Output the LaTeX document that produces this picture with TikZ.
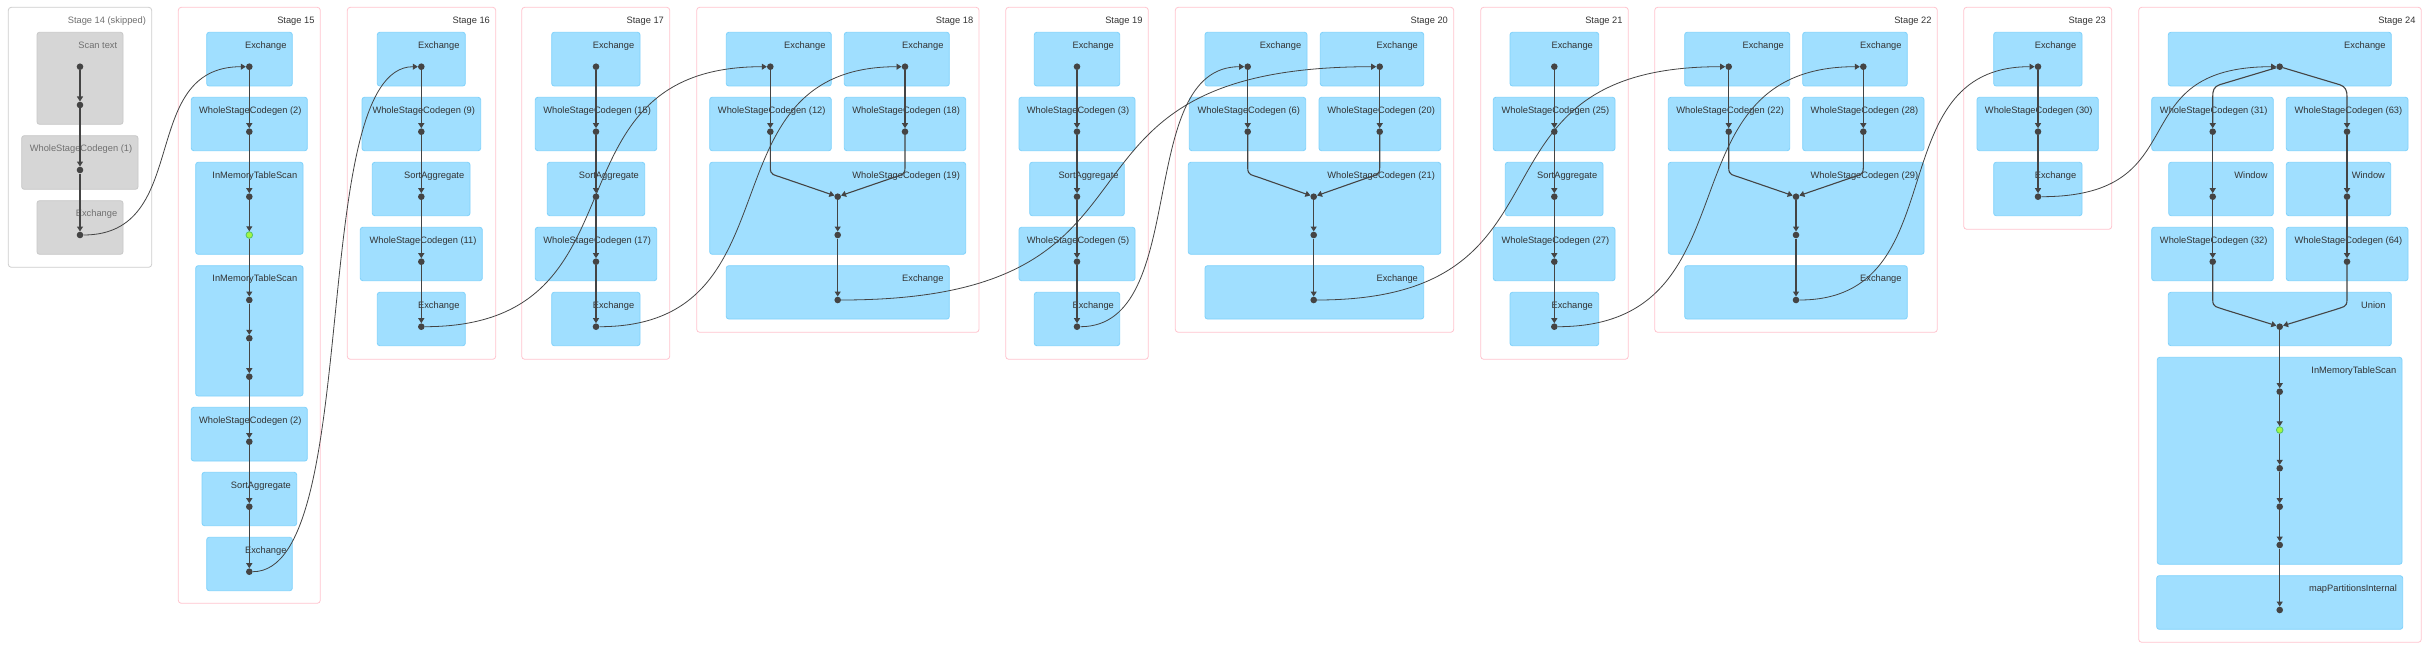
\documentclass[tikz,border=0pt]{standalone}
\usepackage{fontspec}
\setmainfont{Liberation Sans}
\usetikzlibrary{arrows.meta}
\definecolor{opfill}{HTML}{A0DFFF}
\definecolor{opedge}{HTML}{80D2FB}
\definecolor{stageedge}{HTML}{FFC4CE}
\definecolor{skipedge}{HTML}{CDCDCD}
\definecolor{skipfill}{HTML}{D6D6D6}
\definecolor{skipline}{HTML}{C8C8C8}
\definecolor{dotgray}{HTML}{444444}
\definecolor{cachefill}{HTML}{A3F545}
\definecolor{cacheedge}{HTML}{52C366}
\definecolor{labeltext}{HTML}{333333}
\definecolor{skiptext}{HTML}{707070}
\begin{document}
\begin{tikzpicture}[x=1pt,y=-1pt,
	stagebox/.style={draw=stageedge,line width=0.8pt,rounded corners=3pt,fill=white},
	skipstage/.style={draw=skipedge,line width=0.8pt,rounded corners=3pt,fill=white},
	opbox/.style={draw=opedge,fill=opfill,line width=0.8pt,rounded corners=2.5pt},
	skipbox/.style={draw=skipline,fill=skipfill,line width=0.8pt,rounded corners=2.5pt},
	lbl/.style={anchor=base east,inner sep=0pt,font=\fontsize{9.3}{11}\selectfont,text=labeltext},
	skiplbl/.style={lbl,text=skiptext},
	rdd/.style={circle,fill=dotgray,inner sep=0pt,minimum size=6.6pt},
	cachedrdd/.style={rdd,fill=cachefill,draw=cacheedge,line width=0.8pt},
	dep/.style={draw=dotgray,line width=1.1pt,-{Triangle[length=5pt,width=6pt]}},
	shuffle/.style={draw=dotgray,line width=0.8pt,-{Triangle[length=5pt,width=6pt]}}]
	\useasboundingbox (0,0) rectangle (2432,658);
	\draw[skipstage] (8.3,7.3) rectangle (151.7,267.3);
	\node[skiplbl] (stage14) at (146.1,23.1) {Stage 14 (skipped)};
	\foreach \xa/\xb/\yb/\n in {178.3/320.3/603.3/15,347.3/495.7/359.3/16,521.7/669.7/359.3/17,696.7/979/332.3/18,1005.7/1148.3/359.3/19,1175.3/1453.7/332.3/20,1480.7/1628.3/359.3/21,1654.7/1937.3/332.3/22,1963.7/2111.7/229.3/23,2138.7/2421.3/642.3/24}{
		\draw[stagebox] (\xa,7.3) rectangle (\xb,\yb);
		\node[lbl] (stage\n) at ({\xb-5.6},23.1) {Stage \n};
	}
	\foreach \xa/\ya/\xb/\yb/\txt [count=\i] in {37/32.3/123/124.3/Scan text,21.7/135.7/138/189.3/WholeStageCodegen (1),37/200.7/123/254.3/Exchange}{
		\draw[skipbox] (\xa,\ya) rectangle (\xb,\yb);
		\node[skiplbl] (skip\i) at ({\xb-5.6},{\ya+15.8}) {\txt};
	}
	\foreach \xa/\ya/\xb/\yb/\txt [count=\i] in {
		206.7/32.3/292.3/86/Exchange,191.3/97.3/307.3/150.7/WholeStageCodegen (2),195.7/162.3/303/254.3/InMemoryTableScan,195.7/265.7/303/396/InMemoryTableScan,191.3/407.3/307.3/461/WholeStageCodegen (2),202/472.3/296.7/525.7/SortAggregate,206.7/537.3/292.3/590.7/Exchange,
		377.3/32.3/465.3/86/Exchange,362/97.3/480.7/150.7/WholeStageCodegen (9),372.3/162.3/470/215.7/SortAggregate,360.3/227.3/482.3/280.7/WholeStageCodegen (11),377.3/292.3/465.3/345.7/Exchange,
		551.7/32.3/640/86/Exchange,535.3/97.3/656.7/150.7/WholeStageCodegen (15),547.3/162.3/644.7/215.7/SortAggregate,535.3/227.3/656.7/280.7/WholeStageCodegen (17),551.7/292.3/640/345.7/Exchange,
		726.3/32.3/831.3/86/Exchange,844.3/32.3/949.3/86/Exchange,709.7/97.3/831.3/150.7/WholeStageCodegen (12),844.3/97.3/965.7/150.7/WholeStageCodegen (18),709.7/162.3/965.7/254.3/WholeStageCodegen (19),726.3/265.7/949.3/319/Exchange,
		1034.3/32.3/1119.7/86/Exchange,1019/97.3/1135/150.7/WholeStageCodegen (3),1029.7/162.3/1124.3/215.7/SortAggregate,1019/227.3/1135/280.7/WholeStageCodegen (5),1034.3/292.3/1119.7/345.7/Exchange,
		1205/32.3/1307/86/Exchange,1320.3/32.3/1423.7/86/Exchange,1189.3/97.3/1305.7/150.7/WholeStageCodegen (6),1319/97.3/1440.7/150.7/WholeStageCodegen (20),1188.3/162.3/1440.7/254.3/WholeStageCodegen (21),1205/265.7/1423.7/319/Exchange,
		1510/32.3/1598.7/86/Exchange,1493.3/97.3/1615/150.7/WholeStageCodegen (25),1505.3/162.3/1603/215.7/SortAggregate,1493.3/227.3/1615/280.7/WholeStageCodegen (27),1510/292.3/1598.7/345.7/Exchange,
		1684.7/32.3/1789.7/86/Exchange,1802.7/32.3/1907.3/86/Exchange,1668.3/97.3/1789.7/150.7/WholeStageCodegen (22),1802.7/97.3/1924/150.7/WholeStageCodegen (28),1668.3/162.3/1924/254.3/WholeStageCodegen (29),1684.7/265.7/1907.3/319/Exchange,
		1993.7/32.3/2082/86/Exchange,1977/97.3/2098.3/150.7/WholeStageCodegen (30),1993.7/162.3/2082/215.7/Exchange,
		2168.3/32.3/2391.3/86/Exchange,2151.7/97.3/2273.3/150.7/WholeStageCodegen (31),2286.3/97.3/2408/150.7/WholeStageCodegen (63),2168.7/162.3/2273.3/215.7/Window,2286.3/162.3/2390.7/215.7/Window,2151.7/227.3/2273.3/280.7/WholeStageCodegen (32),2286.3/227.3/2408/280.7/WholeStageCodegen (64),2168.3/292.3/2391.3/345.7/Union,2157.3/357.3/2402/564.3/InMemoryTableScan,2156.7/575.7/2402.7/629.3/mapPartitionsInternal}{
		\draw[opbox] (\xa,\ya) rectangle (\xb,\yb);
		\node[lbl] (op\i) at ({\xb-5.6},{\ya+15.8}) {\txt};
	}
	\foreach \n/\y in {a/66.7,b/105,c/170,d/235}
		\node[rdd] (s14\n) at (80,\y) {};
	\foreach \n/\y in {a/66.7,b/131.7,c/196.7,e/300,f/338.3,g/376.7,h/441.7,i/506.7,j/571.7}
		\node[rdd] (s15\n) at (249.3,\y) {};
	\node[cachedrdd] (s15d) at (249.3,235) {};
	\foreach \n/\y in {a/66.7,b/131.7,c/196.7,d/261.7,e/326.7}{
		\node[rdd] (s16\n) at (421.3,\y) {};
		\node[rdd] (s17\n) at (596,\y) {};
		\node[rdd] (s19\n) at (1077,\y) {};
		\node[rdd] (s21\n) at (1554.3,\y) {};
	}
	\node[rdd] (s18a) at (770.3,66.7) {};
	\node[rdd] (s18b) at (770.3,131.7) {};
	\node[rdd] (s18c) at (905,66.7) {};
	\node[rdd] (s18d) at (905,131.7) {};
	\node[rdd] (s18e) at (837.7,196.7) {};
	\node[rdd] (s18f) at (837.7,235) {};
	\node[rdd] (s18g) at (837.7,300) {};
	\node[rdd] (s20a) at (1247.7,66.7) {};
	\node[rdd] (s20b) at (1247.7,131.7) {};
	\node[rdd] (s20c) at (1379.7,66.7) {};
	\node[rdd] (s20d) at (1379.7,131.7) {};
	\node[rdd] (s20e) at (1313.7,196.7) {};
	\node[rdd] (s20f) at (1313.7,235) {};
	\node[rdd] (s20g) at (1313.7,300) {};
	\node[rdd] (s22a) at (1728.7,66.7) {};
	\node[rdd] (s22b) at (1728.7,131.7) {};
	\node[rdd] (s22c) at (1863.3,66.7) {};
	\node[rdd] (s22d) at (1863.3,131.7) {};
	\node[rdd] (s22e) at (1796,196.7) {};
	\node[rdd] (s22f) at (1796,235) {};
	\node[rdd] (s22g) at (1796,300) {};
	\foreach \n/\y in {a/66.7,b/131.7,c/196.7}
		\node[rdd] (s23\n) at (2038,\y) {};
	\node[rdd] (s24a) at (2279.7,66.7) {};
	\foreach \n/\m/\y in {b/e/131.7,c/f/196.7,d/g/261.7}{
		\node[rdd] (s24\n) at (2212.7,\y) {};
		\node[rdd] (s24\m) at (2347,\y) {};
	}
	\foreach \n/\y in {h/326.7,i/391.7,k/468.3,l/506.7,m/545,n/610}
		\node[rdd] (s24\n) at (2279.7,\y) {};
	\node[cachedrdd] (s24j) at (2279.7,430) {};
	\foreach \u/\v in {a/b,b/c,c/d}
		\draw[dep] (s14\u) -- (s14\v);
	\foreach \u/\v in {a/b,b/c,c/d,d/e,e/f,f/g,g/h,h/i,i/j}
		\draw[dep] (s15\u) -- (s15\v);
	\foreach \u/\v in {a/b,b/c,c/d,d/e}{
		\draw[dep] (s16\u) -- (s16\v);
		\draw[dep] (s17\u) -- (s17\v);
		\draw[dep] (s19\u) -- (s19\v);
		\draw[dep] (s21\u) -- (s21\v);
	}
	\foreach \s in {18,20,22}{
		\draw[dep] (s\s a) -- (s\s b);
		\draw[dep] (s\s c) -- (s\s d);
		\draw[dep] (s\s b) -- ++(0,36) .. controls +(0,8) and +(-8,-3) .. ++(12,10) -- (s\s e);
		\draw[dep] (s\s d) -- ++(0,36) .. controls +(0,8) and +(8,-3) .. ++(-12,10) -- (s\s e);
		\draw[dep] (s\s e) -- (s\s f);
		\draw[dep] (s\s f) -- (s\s g);
	}
	\draw[dep] (s23a) -- (s23b);
	\draw[dep] (s23b) -- (s23c);
	\draw[dep] (s24a) -- ++(-60,18) .. controls +(-6,2) and +(0,-6) .. ++(-7,12) -- (s24b);
	\draw[dep] (s24a) -- ++(60,18) .. controls +(6,2) and +(0,-6) .. ++(7.3,12) -- (s24e);
	\foreach \u/\v in {b/c,c/d,e/f,f/g,h/i,i/j,j/k,k/l,l/m,m/n}
		\draw[dep] (s24\u) -- (s24\v);
	\draw[dep] (s24d) -- ++(0,38) .. controls +(0,8) and +(-8,-3) .. ++(12,10) -- (s24h);
	\draw[dep] (s24g) -- ++(0,38) .. controls +(0,8) and +(8,-3) .. ++(-12,10) -- (s24h);
	\draw[shuffle] (s14d) .. controls +(113,0) and +(-113,0) .. (s15a);
	\draw[shuffle] (s15j) .. controls +(115,0) and +(-115,0) .. (s16a);
	\draw[shuffle] (s16e) .. controls +(234,0) and +(-234,0) .. (s18a);
	\draw[shuffle] (s17e) .. controls +(207,0) and +(-207,0) .. (s18c);
	\draw[shuffle] (s18g) .. controls +(363,0) and +(-363,0) .. (s20c);
	\draw[shuffle] (s19e) .. controls +(114,0) and +(-114,0) .. (s20a);
	\draw[shuffle] (s20g) .. controls +(278,0) and +(-278,0) .. (s22a);
	\draw[shuffle] (s21e) .. controls +(207,0) and +(-207,0) .. (s22c);
	\draw[shuffle] (s22g) .. controls +(162,0) and +(-162,0) .. (s23a);
	\draw[shuffle] (s23c) .. controls +(162,0) and +(-162,0) .. (s24a);
\end{tikzpicture}
\end{document}
